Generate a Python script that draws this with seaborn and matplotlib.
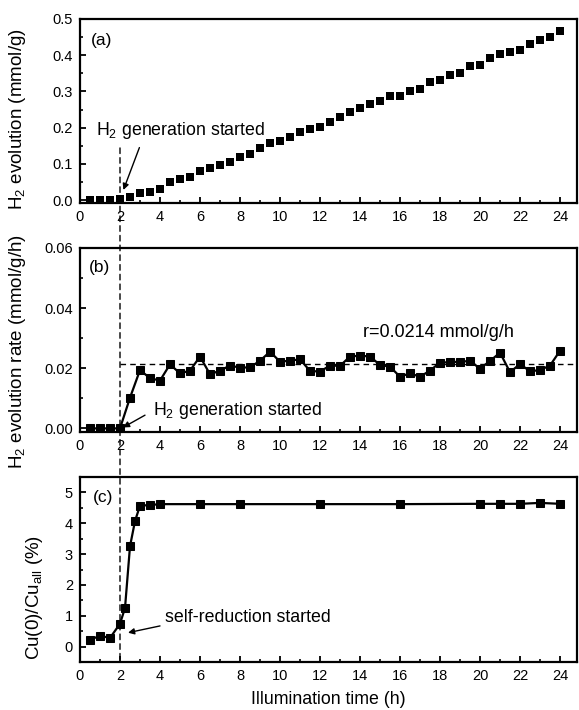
import numpy as np
import pandas as pd
import seaborn as sns
import matplotlib
matplotlib.use("Agg")
import matplotlib.pyplot as plt
from matplotlib.patches import ConnectionPatch
from matplotlib.ticker import MultipleLocator

# ---------------- data ----------------
time_h = [0.5, 1.0, 1.5, 2.0, 2.5, 3.0, 3.5, 4.0, 4.5, 5.0, 5.5, 6.0,
          6.5, 7.0, 7.5, 8.0, 8.5, 9.0, 9.5, 10.0, 10.5, 11.0, 11.5, 12.0,
          12.5, 13.0, 13.5, 14.0, 14.5, 15.0, 15.5, 16.0, 16.5, 17.0, 17.5, 18.0,
          18.5, 19.0, 19.5, 20.0, 20.5, 21.0, 21.5, 22.0, 22.5, 23.0, 23.5, 24.0]

h2_evolution = [0.0, 0.0, 0.0, 0.002, 0.008, 0.020, 0.023, 0.032, 0.050, 0.057, 0.064, 0.080,
                0.088, 0.097, 0.106, 0.120, 0.127, 0.143, 0.157, 0.164, 0.175, 0.189, 0.197, 0.203,
                0.216, 0.230, 0.244, 0.253, 0.264, 0.273, 0.287, 0.288, 0.302, 0.308, 0.325, 0.331,
                0.345, 0.352, 0.370, 0.372, 0.391, 0.402, 0.408, 0.414, 0.431, 0.442, 0.450, 0.468]

h2_rate = [0.0, 0.0, 0.0, 0.0, 0.0102, 0.0194, 0.0167, 0.0159, 0.0213, 0.0183, 0.0192, 0.0239,
           0.0180, 0.0192, 0.0209, 0.0202, 0.0203, 0.0225, 0.0255, 0.0222, 0.0225, 0.0230, 0.0191, 0.0189,
           0.0209, 0.0208, 0.0239, 0.0242, 0.0239, 0.0211, 0.0205, 0.0172, 0.0183, 0.0172, 0.0192, 0.0219,
           0.0220, 0.0222, 0.0224, 0.0199, 0.0224, 0.0252, 0.0187, 0.0214, 0.0190, 0.0194, 0.0209, 0.0258]

mean_rate = 0.0214

cu_time = [0.5, 1.0, 1.5, 2.0, 2.25, 2.5, 2.75, 3.0, 3.5, 4.0, 6.0, 8.0, 12.0, 16.0,
           20.0, 21.0, 22.0, 23.0, 24.0]
cu_ratio = [0.22, 0.35, 0.28, 0.74, 1.25, 3.25, 4.07, 4.57, 4.59, 4.62, 4.62, 4.62, 4.62, 4.62,
            4.63, 4.63, 4.63, 4.66, 4.63]

x_ticks = [0, 2, 4, 6, 8, 10, 12, 14, 16, 18, 20, 22, 24]

df_ab = pd.DataFrame({"t": time_h, "h2": h2_evolution, "rate": h2_rate})
df_c = pd.DataFrame({"t": cu_time, "cu": cu_ratio})

# ---------------- style ----------------
sns.set_style("ticks")
plt.rcParams["font.family"] = ["Liberation Sans", "DejaVu Sans"]
plt.rcParams["mathtext.default"] = "regular"
for key in ["text.color", "axes.labelcolor", "xtick.color", "ytick.color", "axes.edgecolor"]:
    plt.rcParams[key] = "black"

fig = plt.figure(figsize=(5.79, 7.10), dpi=100)
W, H = 579, 710
def rect(top, bottom, left=80, right=577):
    return [left / W, 1 - bottom / H, (right - left) / W, (bottom - top) / H]

ax_a = fig.add_axes(rect(19, 203))
ax_b = fig.add_axes(rect(248, 432))
ax_c = fig.add_axes(rect(477, 662))

# (a)
sns.scatterplot(data=df_ab, x="t", y="h2", ax=ax_a, marker="s", s=34,
                color="black", linewidth=0, zorder=3)
# (b)
sns.lineplot(data=df_ab, x="t", y="rate", ax=ax_b, marker="s", markersize=5.8,
             color="black", linewidth=1.6, markeredgecolor="black", zorder=3)
# (c)
sns.lineplot(data=df_c, x="t", y="cu", ax=ax_c, marker="s", markersize=5.8,
             color="black", linewidth=1.6, markeredgecolor="black", zorder=3)

ylims = [(-0.008, 0.5), (-0.0012, 0.06), (-0.5, 5.5)]
ymaj = [0.1, 0.02, 1]
ylabels = ["H$_2$ evolution (mmol/g)", "H$_2$ evolution rate (mmol/g/h)",
           "Cu(0)/Cu$_{all}$ (%)"]
label_x = [-0.105, -0.105, -0.070]
label_y = [0.455, 0.44, 0.35]
for ax, yl, ym, lab, lx, ly in zip([ax_a, ax_b, ax_c], ylims, ymaj, ylabels, label_x, label_y):
    ax.set_xlim(0, 24.85)
    ax.set_ylim(*yl)
    ax.set_xticks(x_ticks)
    ax.xaxis.set_minor_locator(MultipleLocator(1))
    ax.yaxis.set_major_locator(MultipleLocator(ym))
    ax.yaxis.set_minor_locator(MultipleLocator(ym / 2))
    ax.tick_params(which="major", direction="in", length=4.5, width=1.3,
                   labelsize=10.5, top=False, right=False, pad=5)
    ax.tick_params(which="minor", direction="in", length=2.5, width=1.2,
                   top=False, right=False)
    ax.set_ylabel(lab, fontsize=13.5)
    ax.yaxis.set_label_coords(lx, ly)
    ax.set_xlabel("")
    for s in ax.spines.values():
        s.set_linewidth(1.6)
        s.set_color("black")

ax_a.set_yticks([0.0, 0.1, 0.2, 0.3, 0.4, 0.5])
ax_a.set_yticklabels(["0.0", "0.1", "0.2", "0.3", "0.4", "0.5"])
ax_b.set_yticks([0.0, 0.02, 0.04, 0.06])
ax_b.set_yticklabels(["0.00", "0.02", "0.04", "0.06"])
ax_c.set_yticks([0, 1, 2, 3, 4, 5])
ax_c.set_xlabel("Illumination time (h)", fontsize=12.8, labelpad=6)

# panel labels
ax_a.text(1.1, 0.44, "(a)", fontsize=12.5, ha="center", va="center")
ax_b.text(0.95, 0.0534, "(b)", fontsize=12.5, ha="center", va="center")
ax_c.text(1.15, 4.84, "(c)", fontsize=12.5, ha="center", va="center")

arrow = dict(arrowstyle="-|>", color="black", lw=1.0, mutation_scale=9,
             shrinkA=0, shrinkB=0)

# annotations
ax_a.text(0.8, 0.193, "H$_2$ generation started", fontsize=12.8, ha="left", va="center")
ax_a.annotate("", xy=(2.17, 0.028), xytext=(2.97, 0.145), arrowprops=arrow)

ax_b.text(3.65, 0.0061, "H$_2$ generation started", fontsize=12.8, ha="left", va="center")
ax_b.annotate("", xy=(2.15, 0.0003), xytext=(3.25, 0.0044), arrowprops=arrow)
ax_b.plot([2, 24.85], [mean_rate, mean_rate], color="black", lw=1.0,
          linestyle=(0, (4, 3)), zorder=2)
ax_b.text(17.9, 0.0318, "r=0.0214 mmol/g/h", fontsize=13, ha="center", va="center")

ax_c.text(4.25, 0.93, "self-reduction started", fontsize=12.8, ha="left", va="center")
ax_c.annotate("", xy=(2.4, 0.45), xytext=(4.0, 0.67), arrowprops=arrow)

# vertical dashed line through all panels at t = 2 h
con = ConnectionPatch(xyA=(2, 0.144), coordsA="data", axesA=ax_a,
                      xyB=(2, -0.5), coordsB="data", axesB=ax_c,
                      color="black", lw=1.0, linestyle=(0, (4, 3)), zorder=5)
fig.add_artist(con)

fig.savefig("out.png", dpi=100)
